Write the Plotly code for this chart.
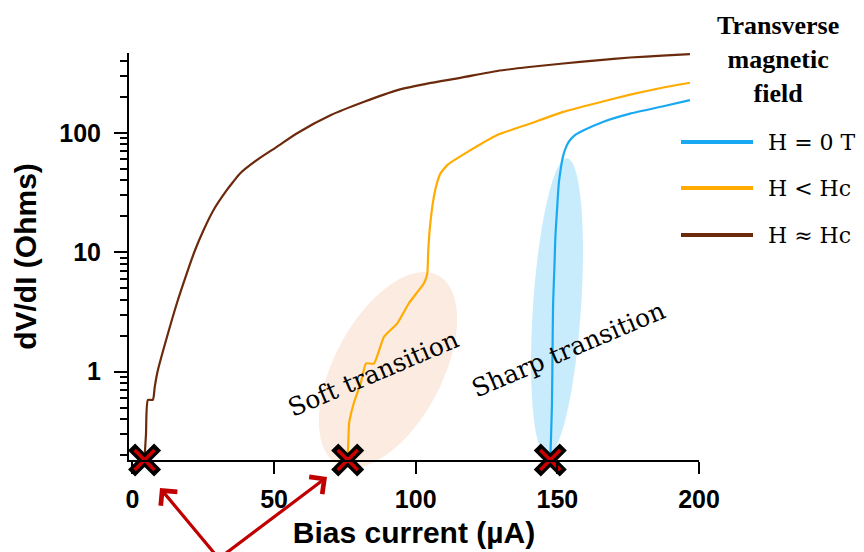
import math
import plotly.graph_objects as go

# ---------------- data ----------------
brown_x = [4.3, 4.8, 5.5, 7.2, 7.9, 9.0, 11.9, 15.7, 19.2, 22.1, 25.1, 28.6, 33.3, 35.6, 38.0, 43.9,
           51.0, 58.0, 70.1, 81.8, 93.6, 105.3, 115.8, 128.8, 140.0, 152.1, 164.0, 175.7, 187.0, 196.8]
brown_y = [0.19, 0.3, 0.58, 0.58, 0.75, 1.03, 1.84, 3.74, 6.66, 10.4, 15.3, 22.5, 33.1, 39, 45.7, 59.1,
           76.4, 98.9, 141, 182, 228, 262, 289, 330, 356, 381, 405, 428, 443, 456]

orange_x = [75.9, 76.2, 76.5, 78.3, 80.6, 82.4, 85.3, 88.8, 93.5, 97.6, 102.9, 104.1, 104.4,
            105.0, 106.4, 107.5, 108.8, 111.2, 118.2, 128.8, 140.5, 152.1, 164.0, 175.7, 187.4, 196.8]
orange_y = [0.18, 0.25, 0.37, 0.56, 0.8, 1.17, 1.17, 1.96, 2.54, 3.74, 5.5, 6.65, 10,
            16, 29, 38, 46, 54, 69, 96, 120, 150, 178, 209, 240, 263]

blue_x = [147.5, 147.8, 148.1, 148.3, 148.5, 149.0, 149.3, 150.0, 150.5, 151.2, 151.7, 152.5,
          154.0, 156.0, 159.3, 166.3, 175.7, 187.4, 196.8]
blue_y = [0.18, 0.3, 0.54, 1.5, 3.7, 8, 13.5, 25, 37.7, 50, 59, 70,
          84, 95, 105, 124, 145, 167, 188]

marker_x = [4.3, 76.0, 147.5]
marker_y = [0.1822, 0.1822, 0.1822]

series_names = ["H = 0 T", "H < Hc", "H ≈ Hc"]
series_colors = ["#18a9f2", "#ffab00", "#6b2a0c"]

y_tickvals = [1, 10, 100]
y_ticktext = ["1", "10", "100"]
y_minor = [0.2, 0.3, 0.4, 0.5, 0.6, 0.7, 0.8, 0.9, 2, 3, 4, 5, 6, 7, 8, 9,
           20, 30, 40, 50, 60, 70, 80, 90, 200, 300, 400]
x_tickvals = [0, 50, 100, 150, 200]

# ---------------- layout geometry ----------------
OFF = 8  # page body margin
W, H = 864, 552
ML, MT = 129 - OFF, 53 - OFF
PW, PH = 570, 407
MR, MB = W - ML - PW, H - MT - PH


def to_paper(px, py):
    """screen pixel -> paper fraction"""
    fx, fy = px - OFF, py - OFF
    return (fx - ML) / PW, (MT + PH - fy) / PH


def ellipse_path(cx, cy, a, b, tilt_deg, n=90):
    t = math.radians(tilt_deg)
    ux, uy = math.sin(t), -math.cos(t)
    vx, vy = math.cos(t), math.sin(t)
    pts = []
    for i in range(n):
        s = 2 * math.pi * i / n
        px = cx + a * math.cos(s) * ux + b * math.sin(s) * vx
        py = cy + a * math.cos(s) * uy + b * math.sin(s) * vy
        xp, yp = to_paper(px, py)
        pts.append(f"{xp:.5f},{yp:.5f}")
    return "M" + " L".join(pts) + " Z"


fig = go.Figure()

for xs, ys, name, col, sm in [(blue_x, blue_y, series_names[0], series_colors[0], 0.4),
                              (orange_x, orange_y, series_names[1], series_colors[1], 0.4),
                              (brown_x, brown_y, series_names[2], series_colors[2], 0.6)]:
    fig.add_trace(go.Scatter(x=xs, y=ys, mode="lines", name=name,
                             line=dict(color=col, width=2.2, shape="spline", smoothing=sm),
                             showlegend=False))

fig.add_trace(go.Scatter(x=marker_x, y=marker_y, mode="markers", showlegend=False,
                         cliponaxis=False,
                         marker=dict(symbol="x-thin", size=26, color="black",
                                     line=dict(color="black", width=10))))
fig.add_trace(go.Scatter(x=marker_x, y=marker_y, mode="markers", showlegend=False,
                         cliponaxis=False,
                         marker=dict(symbol="x-thin", size=20, color="#cc0000",
                                     line=dict(color="#cc0000", width=3.5))))

shapes = [
    dict(type="path", xref="paper", yref="paper", layer="below",
         path=ellipse_path(388, 370, 107, 54, 27.8), fillcolor="#fbebe1", line=dict(width=0)),
    dict(type="path", xref="paper", yref="paper", layer="below",
         path=ellipse_path(557, 307, 149, 24, 3.85), fillcolor="#c8ecfb", line=dict(width=0)),
]

# manual legend
legend_rows_py = [142, 188, 235]
annotations = []
for py, name, col in zip(legend_rows_py, series_names, series_colors):
    x0, y0 = to_paper(681, py)
    x1, _ = to_paper(753, py)
    shapes.append(dict(type="line", xref="paper", yref="paper", x0=x0, x1=x1, y0=y0, y1=y0,
                       line=dict(color=col, width=4)))
    tx, ty = to_paper(766, py)
    annotations.append(dict(xref="paper", yref="paper", x=tx, y=ty, xanchor="left", yanchor="middle",
                            text=name, showarrow=False,
                            font=dict(family="DejaVu Serif", size=22, color="black")))

tx, ty = to_paper(778, 60)
annotations.append(dict(xref="paper", yref="paper", x=tx, y=ty, xanchor="center", yanchor="middle",
                        text="<b>Transverse<br>magnetic<br>field</b>", showarrow=False,
                        font=dict(family="Liberation Serif", size=26, color="black")))

# transition labels (log axis: y in log10 units)
annotations.append(dict(x=85.1, y=-0.013, xref="x", yref="y", text="Soft transition",
                        textangle=-23, showarrow=False, xanchor="center", yanchor="middle",
                        font=dict(family="DejaVu Serif", size=25, color="black")))
annotations.append(dict(x=153.9, y=0.182, xref="x", yref="y", text="Sharp transition",
                        textangle=-23, showarrow=False, xanchor="center", yanchor="middle",
                        font=dict(family="DejaVu Serif", size=25, color="black")))

# red arrows from below (tails run off the bottom edge)
for (hx, hy), (dx, dy) in [((160, 488), (60, 104)), ((327, 477), (-110, 103))]:
    ax_, ay_ = to_paper(hx, hy)
    annotations.append(dict(xref="paper", yref="paper", x=ax_, y=ay_, ax=dx, ay=dy,
                            axref="pixel", ayref="pixel", text="", showarrow=True,
                            arrowhead=4, arrowsize=1.3, arrowwidth=3.2, arrowcolor="#c00000",
                            standoff=0))

axis_font = dict(family="Liberation Sans", size=25, color="black", weight="bold")
title_font = dict(family="Liberation Sans", size=30, color="black", weight="bold")

fig.update_layout(
    width=W, height=H,
    margin=dict(l=ML, r=MR, t=MT, b=MB, autoexpand=False),
    paper_bgcolor="white", plot_bgcolor="white",
    shapes=shapes, annotations=annotations,
    xaxis=dict(range=[-1.2, 200], tickvals=x_tickvals, ticks="outside", ticklen=12, tickwidth=2,
               tickcolor="black", showline=True, linecolor="black", linewidth=2,
               showgrid=False, zeroline=False, tickfont=axis_font, ticklabelstandoff=4,
               title=dict(text="Bias current (µA)", standoff=10, font=title_font),
               automargin=False),
    yaxis=dict(type="log", range=[-0.74, 2.669], tickvals=y_tickvals, ticktext=y_ticktext,
               ticks="outside", ticklen=13, tickwidth=2, tickcolor="black",
               minor=dict(tickvals=y_minor, ticks="outside", ticklen=7, tickwidth=2, tickcolor="black",
                          showgrid=False),
               showline=True, linecolor="black", linewidth=2, showgrid=False, zeroline=False,
               tickfont=axis_font, ticklabelstandoff=8,
               title=dict(text="dV/dI (Ohms)", standoff=14, font=title_font),
               automargin=False),
)

fig.write_html("out.html")
